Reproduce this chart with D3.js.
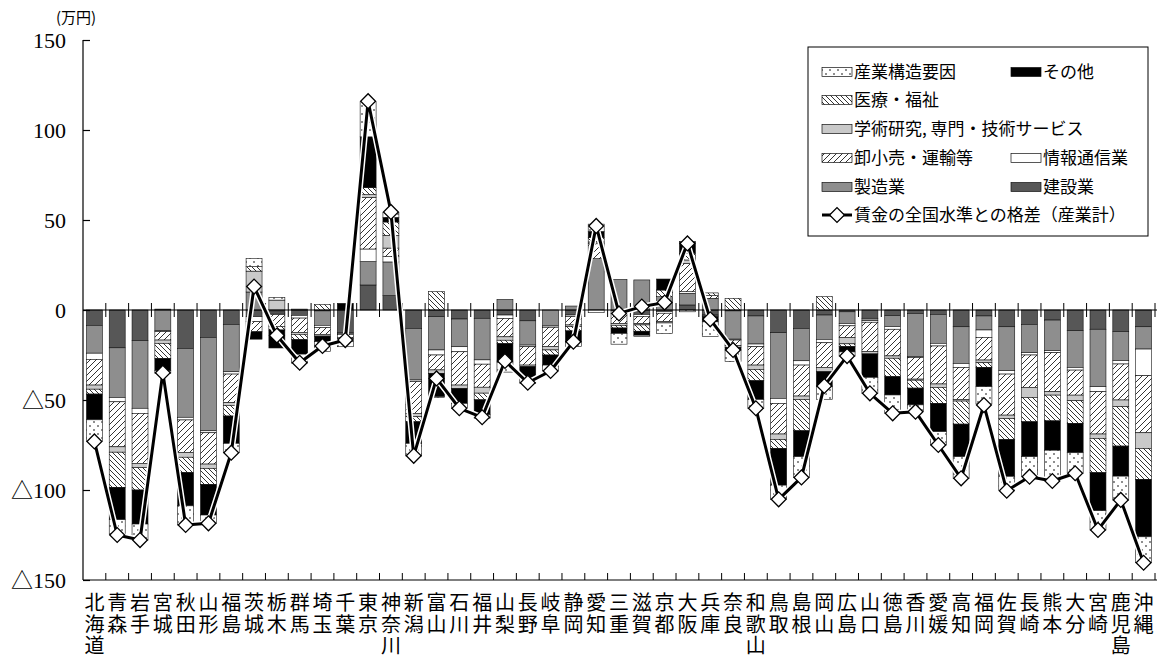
<!DOCTYPE html>
<html lang="ja">
<head>
<meta charset="UTF-8">
<script src="https://d3js.org/d3.v7.min.js"></script>
<title>賃金の全国水準との格差</title>
<style>
  body { margin: 0; background: #fff; }
  svg text { font-family: "Liberation Serif", "Noto Sans CJK JP", serif; fill: #000; }
  svg text.jp { font-family: "Noto Sans CJK JP", sans-serif; }
</style>
</head>
<body>
<div id="chart"></div>
<script>
  // prefectures, left to right
  const prefs = ['北海道','青森','岩手','宮城','秋田','山形','福島','茨城','栃木','群馬','埼玉','千葉','東京','神奈川',
    '新潟','富山','石川','福井','山梨','長野','岐阜','静岡','愛知','三重','滋賀','京都','大阪','兵庫','奈良','和歌山',
    '鳥取','島根','岡山','広島','山口','徳島','香川','愛媛','高知','福岡','佐賀','長崎','熊本','大分','宮崎','鹿児島','沖縄'];

  // contributions (万円)
  const construction = [-8.5,-21,-17,0.5,-21.3,-15.2,-8,-3.7,-1.2,-3,-0.5,-12.5,13.9,8,
    -10.2,-3.7,-5,-4.6,-2.8,-6,0,-2.8,0,-0.5,-2.5,-0.8,2.8,-2.8,-0.5,-3.3,
    -12.6,-10.2,-2.8,-1,-4.6,-3.1,-1.9,-2.4,-9.3,-3.3,-9.3,-8,-5.6,-11.5,-10.7,-12,-9.3];
  const manufacturing = [-15.5,-27.6,-37.6,-11.5,-38.3,-51.9,-26.3,10,-0.8,0.5,-8,-0.5,13,18.7,
    -28.7,-18.5,-15.4,-23.1,5.9,-13.5,-8.9,2.2,28.5,17,16.7,7.4,6.5,6.5,-15.7,-15.6,
    -36.5,-18,-13.5,-6.5,-1.3,-6.1,-24,-16.1,-20.4,-7.8,-24.4,-15.7,-17,-20.4,-31.9,-16.1,-12.4];
  const infoComm = [-3.4,-2.4,-2.8,-0.5,-1.5,-1.1,-1.3,-2.8,-0.6,-1.5,-1.3,-0.5,7,3,
    -0.9,-2.8,-2.8,-2.4,-1.9,-0.9,-0.7,-0.9,-1.5,-1.5,-1,-1,0.9,-0.5,-0.5,-1.5,
    -2.8,-2.4,-1.9,-1.3,-0.9,-1.5,-0.5,-1.5,-2.2,-4.1,-1.9,-1.3,-1.1,-1.5,-2.8,-1.9,-14.8];
  const wholesale = [-14.3,-25,-27.8,-4.7,-18.1,-17.4,-15.9,-5.6,-6.5,-8,-3.7,-2,28.7,4.7,
    -17.6,-8.3,-18.5,-12.8,-10.2,-10.2,-10.7,-4.6,8.3,-5.5,-4,-4.6,15.7,1.5,-3,-10.2,
    -17,-17.2,-13.7,-6.5,-16.3,-14.8,-12,-21.1,-17.8,-12.6,-22.8,-18,-21.7,-13.9,-23.5,-20,-31.7];
  const research = [-2.3,-3,-2.4,-1.8,-2.6,-2.4,-1.5,11.6,5.5,-1,-1,-0.5,1.5,7.1,
    -1.9,-1.9,-1.9,-3.3,-1.9,-0.9,-1.9,-0.9,1,-1,-0.8,-0.8,1.9,-0.5,-1,-2.4,
    -3,-1.9,-2.4,-3.5,-1.3,-1.3,-0.6,-1.9,-0.9,-1.5,-1.9,-5.6,-1.9,-3.1,-2.4,-3.7,-8.7];
  const medical = [-2.7,-19.5,-12.4,-8.4,-8.5,-8.9,-5.9,2.5,-2,-3,3.1,-1.4,3.9,7.4,
    -2.8,10.2,0,-3.7,-1.9,0,-2.8,-2.4,2.4,-1.5,-3.5,3.7,3.7,1.5,6.5,-6.3,
    -5,-17.4,7.4,-1.5,0,-10.2,-4.4,-8.9,-12.8,-2.6,-11.7,-13.5,-14.3,-12.6,-19.1,-21.9,-17.2];
  const others = [-14.3,-18,-18.9,-6.8,-18.5,-17,-15.2,-4.1,-10,-8,-3.1,3.7,28.2,2.6,
    -12,-13,-8.3,-8.3,-10.2,-6.5,-5.6,-5.9,3.5,-3,-2.2,6.1,6.5,-2.8,-1.5,-10.4,
    -20.4,-14.4,-8.3,-3,-13,-10.2,-9.3,-15.7,-18.1,-10.7,-20.4,-19.4,-16.3,-16.3,-21.1,-16.7,-31.9];
  const structure = [-12,-8.3,-8.9,-1.5,-10.6,-4.6,-5.2,4.6,1.5,-5,-5.5,-3,19.5,2.7,
    -7,-0.5,-2.8,-1.9,-5.6,-2.8,-3.2,-2.8,4,-6,-0.8,-5.8,-1,-8.2,-6.5,-5,
    -8,-11.5,-7,-2.3,-8.9,-10.2,-3.8,-7.4,-12,-9.6,-7.8,-11.1,-16.7,-11.5,-10.7,-13.3,-14.4];
  // wage gap, all industries
  const totalGap = [-73,-125,-127.8,-34.8,-119.4,-118.5,-79.3,13,-14.2,-29.3,-20,-16.7,116,54.5,
    -81,-38,-54.6,-59.6,-28.3,-40.4,-33.9,-17.6,46.7,-1.9,1.9,4.1,37,-5.2,-22.2,-54.6,
    -105.2,-93,-42.2,-25.6,-46.3,-57.4,-56.5,-75,-93.5,-52.8,-100.4,-92.6,-95,-90.7,-122.2,-105.5,-140.4];

  const yTicks = [150, 100, 50, 0, -50, -100, -150];

  const keys = ['建設業','製造業','情報通信業','卸小売・運輸等','学術研究','医療・福祉','その他','産業構造要因'];
  const series = [construction, manufacturing, infoComm, wholesale, research, medical, others, structure];
  const fills = {
    '建設業': '#575757',
    '製造業': '#8e8e8e',
    '情報通信業': '#ffffff',
    '卸小売・運輸等': 'url(#hatchFwd)',
    '学術研究': '#c9c9c9',
    '医療・福祉': 'url(#hatchBack)',
    'その他': '#000000',
    '産業構造要因': 'url(#dots)'
  };

  const rows = prefs.map((p, i) => {
    const r = { pref: p };
    keys.forEach((k, j) => r[k] = series[j][i]);
    return r;
  });

  const W = 1161, H = 659;
  const plotL = 83, plotR = 1155, plotT = 40, plotB = 580;

  const svg = d3.select('#chart').append('svg')
    .attr('width', W)
    .attr('height', H);

  // patterns
  const defs = svg.append('defs');
  const fwd = defs.append('pattern').attr('id', 'hatchFwd')
    .attr('patternUnits', 'userSpaceOnUse').attr('width', 6).attr('height', 6);
  fwd.append('rect').attr('width', 6).attr('height', 6).attr('fill', '#fff');
  fwd.append('path').attr('d', 'M-1,1 l2,-2 M0,6 l6,-6 M5,7 l2,-2')
    .attr('stroke', '#000').attr('stroke-width', 0.8);

  const back = defs.append('pattern').attr('id', 'hatchBack')
    .attr('patternUnits', 'userSpaceOnUse').attr('width', 5).attr('height', 5);
  back.append('rect').attr('width', 5).attr('height', 5).attr('fill', '#fff');
  back.append('path').attr('d', 'M-1,4 l2,2 M0,0 l5,5 M4,-1 l2,2')
    .attr('stroke', '#000').attr('stroke-width', 0.8);

  const dots = defs.append('pattern').attr('id', 'dots')
    .attr('patternUnits', 'userSpaceOnUse').attr('width', 8).attr('height', 8);
  dots.append('rect').attr('width', 8).attr('height', 8).attr('fill', '#fff');
  dots.append('circle').attr('cx', 2).attr('cy', 2).attr('r', 0.8).attr('fill', '#000');
  dots.append('circle').attr('cx', 6).attr('cy', 6).attr('r', 0.8).attr('fill', '#000');

  const x = d3.scaleBand().domain(prefs).range([plotL, plotR]).padding(0);
  const y = d3.scaleLinear().domain([-150, 150]).range([plotB, plotT]);
  const step = x.bandwidth();
  const barW = step * 0.7;

  const stacked = d3.stack().keys(keys).offset(d3.stackOffsetDiverging)(rows);

  // bars
  svg.append('g').selectAll('g')
    .data(stacked)
    .enter()
    .append('g')
    .attr('fill', d => fills[d.key])
    .selectAll('rect')
    .data(d => d)
    .enter()
    .append('rect')
    .attr('x', d => x(d.data.pref) + (step - barW) / 2)
    .attr('y', d => y(Math.max(d[0], d[1])))
    .attr('width', barW)
    .attr('height', d => Math.abs(y(d[0]) - y(d[1])))
    .attr('stroke', '#111')
    .attr('stroke-width', 0.6);

  // zero line with crossing ticks
  svg.append('line')
    .attr('x1', plotL).attr('x2', plotR + 2)
    .attr('y1', y(0)).attr('y2', y(0))
    .attr('stroke', '#000').attr('stroke-width', 1.2);

  const bounds = prefs.slice(1).map(p => x(p)).concat([plotR]);
  svg.append('g').selectAll('line')
    .data(bounds)
    .enter()
    .append('line')
    .attr('x1', d => d).attr('x2', d => d)
    .attr('y1', y(0) - 7).attr('y2', y(0) + 7)
    .attr('stroke', '#000').attr('stroke-width', 1);

  // bottom axis
  const xAxis = d3.axisBottom(x).tickSize(0).tickFormat('');
  const gx = svg.append('g').attr('transform', `translate(0,${plotB})`).call(xAxis);
  gx.select('.domain').attr('stroke-width', 1.2).attr('d', `M${plotL},0H${plotR + 2}`);
  gx.append('g').selectAll('line')
    .data(bounds)
    .enter()
    .append('line')
    .attr('x1', d => d).attr('x2', d => d)
    .attr('y1', -7).attr('y2', 0)
    .attr('stroke', '#000').attr('stroke-width', 1);

  // category labels, one character per line
  const lab = svg.append('g').selectAll('text')
    .data(prefs)
    .enter()
    .append('text')
    .attr('class', 'jp')
    .attr('text-anchor', 'middle')
    .attr('font-size', 20);
  lab.selectAll('tspan')
    .data(p => p.split('').map((ch, k) => ({ ch, k, p })))
    .enter()
    .append('tspan')
    .attr('x', d => x(d.p) + step / 2)
    .attr('y', d => 610 + d.k * 21.5)
    .text(d => d.ch);

  // left axis
  const yAxis = d3.axisLeft(y).tickValues(yTicks).tickSize(-7).tickPadding(17)
    .tickFormat(v => v < 0 ? '△' + Math.abs(v) : String(v));
  const gy = svg.append('g').attr('transform', `translate(${plotL},0)`).call(yAxis);
  gy.select('.domain').attr('stroke-width', 1.2).attr('d', `M0,${plotT}V${plotB}`);
  gy.selectAll('.tick line').attr('stroke-width', 1.2);
  gy.selectAll('.tick text')
    .attr('font-size', 22)
    .attr('font-family', '"Liberation Serif", "Noto Sans CJK JP", serif');

  svg.append('text')
    .attr('class', 'jp')
    .attr('x', 56).attr('y', 23)
    .attr('font-size', 15)
    .text('(万円)');

  // gap line
  const line = d3.line()
    .x((d, i) => x(prefs[i]) + step / 2)
    .y(d => y(d));

  svg.append('path').datum(totalGap)
    .attr('d', line).attr('fill', 'none')
    .attr('stroke', '#fff').attr('stroke-width', 6).attr('stroke-linejoin', 'round');
  svg.append('path').datum(totalGap)
    .attr('d', line).attr('fill', 'none')
    .attr('stroke', '#000').attr('stroke-width', 3).attr('stroke-linejoin', 'round');

  const diamond = d3.symbol().type(d3.symbolSquare).size(110);
  svg.append('g').selectAll('path')
    .data(totalGap)
    .enter()
    .append('path')
    .attr('d', diamond)
    .attr('transform', (d, i) => `translate(${x(prefs[i]) + step / 2},${y(d)}) rotate(45)`)
    .attr('fill', '#fff')
    .attr('stroke', '#000')
    .attr('stroke-width', 1.3);

  // legend
  const legend = svg.append('g');
  legend.append('rect')
    .attr('x', 808).attr('y', 47).attr('width', 340).attr('height', 189)
    .attr('fill', '#fff').attr('stroke', '#000').attr('stroke-width', 1);

  const legendItems = [
    { key: '産業構造要因', label: '産業構造要因', col: 0, row: 0 },
    { key: 'その他', label: 'その他', col: 1, row: 0 },
    { key: '医療・福祉', label: '医療・福祉', col: 0, row: 1 },
    { key: '学術研究', label: '学術研究, 専門・技術サービス', col: 0, row: 2 },
    { key: '卸小売・運輸等', label: '卸小売・運輸等', col: 0, row: 3 },
    { key: '情報通信業', label: '情報通信業', col: 1, row: 3 },
    { key: '製造業', label: '製造業', col: 0, row: 4 },
    { key: '建設業', label: '建設業', col: 1, row: 4 }
  ];
  const rowY = [72, 100, 129, 158, 187, 215];
  const colX = [822, 1011];

  legend.selectAll('rect.sw')
    .data(legendItems)
    .enter()
    .append('rect')
    .attr('class', 'sw')
    .attr('x', d => colX[d.col]).attr('y', d => rowY[d.row] - 4.5)
    .attr('width', 30).attr('height', 9)
    .attr('fill', d => fills[d.key])
    .attr('stroke', '#111').attr('stroke-width', 0.7);

  legend.selectAll('text.lt')
    .data(legendItems)
    .enter()
    .append('text')
    .attr('class', 'jp lt')
    .attr('x', d => colX[d.col] + 32).attr('y', d => rowY[d.row] + 6)
    .attr('font-size', 17)
    .text(d => d.label);

  legend.append('line')
    .attr('x1', 822).attr('x2', 852).attr('y1', rowY[5]).attr('y2', rowY[5])
    .attr('stroke', '#000').attr('stroke-width', 3);
  legend.append('path')
    .attr('d', diamond)
    .attr('transform', `translate(837,${rowY[5]}) rotate(45)`)
    .attr('fill', '#fff').attr('stroke', '#000').attr('stroke-width', 1.3);
  legend.append('text')
    .attr('class', 'jp')
    .attr('x', 854).attr('y', rowY[5] + 6)
    .attr('font-size', 17)
    .text('賃金の全国水準との格差（産業計）');
</script>
</body>
</html>
